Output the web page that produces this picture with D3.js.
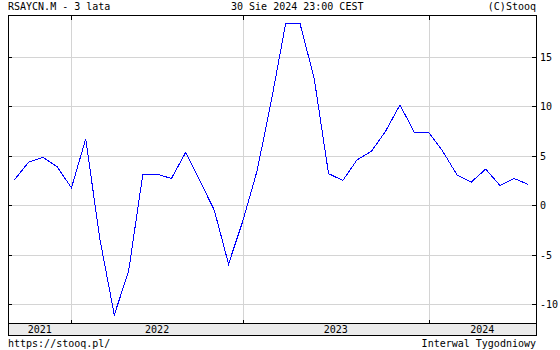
<!DOCTYPE html>
<html>
<head>
<meta charset="utf-8">
<script src="https://cdn.jsdelivr.net/npm/d3@7"></script>
<style>
  body { margin: 0; background: #fff; }
  text { font-family: "DejaVu Sans Mono", monospace; font-size: 10px; fill: #000; }
</style>
</head>
<body>
<div id="plt"></div>
<script>
// monthly y/y values, as plotted (one point per step)
const values = [2.55, 4.35, 4.85, 3.9, 1.75, 6.7, -3.5, -11.1, -6.7, 3.15, 3.15, 2.7, 5.35, 2.45,
  -0.5, -5.95, -1.6, 3.5, 10.6, 18.4, 18.4, 12.8, 3.2, 2.5, 4.6, 5.45, 7.5, 10.15, 7.4, 7.4,
  5.45, 3.05, 2.35, 3.65, 2.0, 2.7, 2.1];
const years = ["2021", "2022", "2023", "2024"];
const yearBreaks = [4, 16, 29];   // point index where a new year starts
const yTicks = [-10, -5, 0, 5, 10, 15];

const W = 560, H = 350;
const pLeft = 8, pRight = 536, pTop = 15, plotBottom = 323, bandBottom = 335;

const svg = d3.select("#plt").append("svg")
    .attr("width", W)
    .attr("height", H);

const x = d3.scaleLinear().domain([0, values.length - 1]).range([14.3, 528.5]);
const y = d3.scaleLinear().domain([-11.92, 19.25]).range([plotBottom, pTop]);

const crisp = v => Math.round(v) + 0.5;

// grid
const grid = svg.append("g").attr("stroke", "#d4d4d4").attr("shape-rendering", "crispEdges");
grid.selectAll("line.h").data(yTicks).enter().append("line")
    .attr("x1", pLeft).attr("x2", pRight)
    .attr("y1", d => crisp(y(d))).attr("y2", d => crisp(y(d)));
grid.selectAll("line.v").data(yearBreaks).enter().append("line")
    .attr("x1", d => crisp(x(d))).attr("x2", d => crisp(x(d)))
    .attr("y1", pTop).attr("y2", plotBottom);

// date band
svg.append("rect")
    .attr("x", pLeft).attr("y", plotBottom)
    .attr("width", pRight - pLeft).attr("height", bandBottom - plotBottom)
    .attr("fill", "#ebebeb");

// line
const line = d3.line().x((d, i) => x(i)).y(d => y(d));
svg.append("path")
    .datum(values)
    .attr("d", line)
    .attr("fill", "none")
    .attr("stroke", "#0000ff")
    .attr("stroke-width", 1)
    .attr("shape-rendering", "crispEdges");

// frame and ticks
const frame = svg.append("g").attr("stroke", "#000").attr("shape-rendering", "crispEdges");
frame.append("rect")
    .attr("x", pLeft + 0.5).attr("y", pTop + 0.5)
    .attr("width", pRight - pLeft).attr("height", bandBottom - pTop)
    .attr("fill", "none");
frame.append("line")
    .attr("x1", pLeft).attr("x2", pRight + 1)
    .attr("y1", plotBottom + 0.5).attr("y2", plotBottom + 0.5);

frame.selectAll("line.yl").data(yTicks).enter().append("line")
    .attr("x1", pLeft).attr("x2", pLeft + 4)
    .attr("y1", d => crisp(y(d))).attr("y2", d => crisp(y(d)));
frame.selectAll("line.yr").data(yTicks).enter().append("line")
    .attr("x1", pRight - 4).attr("x2", pRight)
    .attr("y1", d => crisp(y(d))).attr("y2", d => crisp(y(d)));
frame.selectAll("line.xt").data(yearBreaks).enter().append("line")
    .attr("x1", d => crisp(x(d))).attr("x2", d => crisp(x(d)))
    .attr("y1", pTop).attr("y2", pTop + 5);
frame.selectAll("line.xb").data(yearBreaks).enter().append("line")
    .attr("x1", d => crisp(x(d))).attr("x2", d => crisp(x(d)))
    .attr("y1", plotBottom - 3).attr("y2", plotBottom);

// y labels on the right
svg.selectAll("text.yl").data(yTicks).enter().append("text")
    .attr("x", pRight + 4)
    .attr("y", d => y(d) + 4)
    .text(d => d);

// year labels centred between breaks
const edges = [pLeft].concat(yearBreaks.map(b => x(b)), [pRight]);
svg.selectAll("text.year").data(years).enter().append("text")
    .attr("x", (d, i) => (edges[i] + edges[i + 1]) / 2)
    .attr("y", 333)
    .attr("text-anchor", "middle")
    .text(d => d);

// header / footer
svg.append("text").attr("x", pLeft).attr("y", 10).text("RSAYCN.M - 3 lata");
svg.append("text").attr("x", 231).attr("y", 10).text("30 Sie 2024 23:00 CEST");
svg.append("text").attr("x", pRight).attr("y", 10).attr("text-anchor", "end").text("(C)Stooq");
svg.append("text").attr("x", pLeft).attr("y", 347).text("https://stooq.pl/");
svg.append("text").attr("x", pRight).attr("y", 347).attr("text-anchor", "end").text("Interwal Tygodniowy");
</script>
</body>
</html>
